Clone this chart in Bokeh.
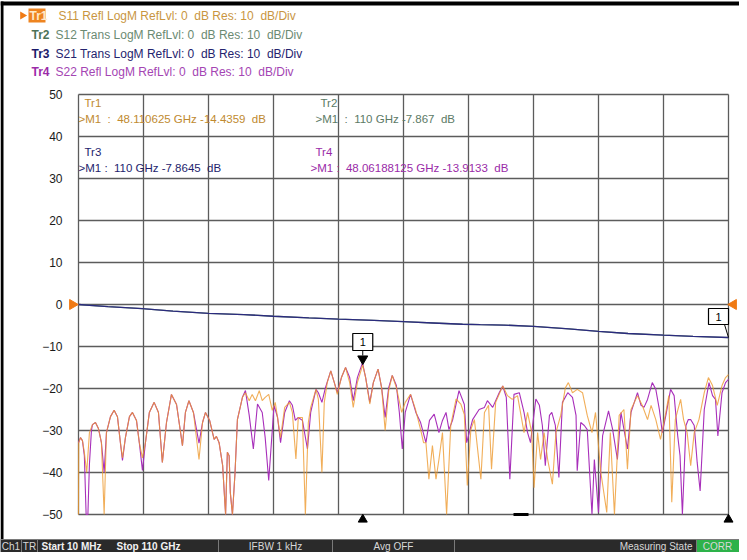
import numpy as np
from bokeh.plotting import figure
from bokeh.models import Range1d, FixedTicker
from bokeh.core.properties import value
from bokeh.embed import file_html
from bokeh.resources import INLINE

# ---------------- data (GHz, dB) ----------------
start_ghz, stop_ghz = 0.01, 110.0
y_ticks = [50, 40, 30, 20, 10, 0, -10, -20, -30, -40, -50]
x_divs = list(np.linspace(start_ghz, stop_ghz, 11))

freq_s11 = [0.01, 0.05, 0.34, 0.68, 1.0, 1.4, 1.86, 2.37, 2.88, 3.38, 3.89, 4.35, 4.74, 5.42, 6.04, 6.6, 7.1, 7.45,
            7.95, 8.63, 9.14, 9.82, 10.3, 10.83, 11.34, 12.0, 12.81, 13.54, 14.2, 14.9, 15.74, 16.6, 17.6, 18.1,
            18.7, 19.46, 20.4, 21.0, 21.5, 22.2, 22.96, 23.35, 23.8, 24.4, 24.9, 25.2, 25.5, 25.7, 26.06, 26.5,
            26.9, 27.75, 28.26, 28.9, 29.4, 29.95, 30.6, 31.1, 31.6, 32.2, 32.8, 33.3, 34.2, 34.9, 35.7, 36.2,
            36.8, 37.2, 37.9, 38.4, 38.9, 39.3, 40.2, 40.6, 41.2, 41.6, 42.1, 42.7, 43.3, 43.8, 44.5, 45.2, 45.9,
            46.5, 47.2, 48.1, 48.6, 49.3, 49.9, 50.7, 51.3, 51.9, 52.5, 53.1, 53.8, 54.7, 55.3, 56.2, 57.0, 57.9,
            58.4, 58.8, 59.3, 59.9, 60.5, 61.0, 61.6, 62.3, 63.0, 63.9, 64.7, 65.3, 65.8, 66.4, 67.0, 68.1, 68.7,
            69.4, 69.9, 70.6, 71.8, 72.6, 73.4, 74.3, 74.8, 75.4, 76.0, 76.7, 77.1, 77.7, 78.2, 78.8, 79.4, 80.2,
            80.8, 81.6, 82.4, 82.9, 83.6, 84.4, 85.3, 86.1, 86.9, 87.5, 88.4, 89.4, 90.0, 90.7, 91.5, 92.3, 92.9,
            93.5, 94.6, 95.4, 96.3, 96.9, 97.7, 98.5, 99.4, 99.9, 100.4, 101.0, 101.9, 102.4, 103.0, 103.6, 104.2,
            105.0, 105.9, 106.6, 107.3, 108.1, 108.9, 109.5, 110.0]
s11_db = [-50, -32.9, -31.7, -32.4, -35.2, -40.0, -30.5, -28.6, -28.1, -29.5, -32.9, -50, -30.5, -26.7, -25.2, -26.7,
          -32.9, -36.5, -31.7, -26.7, -25.7, -27.6, -32.9, -36.5, -32.9, -25.7, -23.3, -25.7, -37.6, -28.1, -21.4,
          -23.8, -33.6, -25.7, -22.9, -25.7, -36.9, -28.1, -25.7, -27.6, -32.1, -31.4, -32.9, -38.3, -50, -35.2,
          -36.0, -44.8, -50, -40.0, -27.4, -22.1, -21.0, -22.9, -21.4, -22.9, -20.5, -22.9, -22.1, -21.4, -25.2,
          -23.3, -31.7, -24.5, -23.3, -25.7, -36.8, -26.9, -26.9, -50, -28.1, -24.5, -20.2, -22.6, -40.0, -23.3,
          -18.6, -15.8, -18.6, -21.4, -17.4, -15.0, -18.6, -24.5, -18.6, -14.4, -17.4, -23.7, -18.6, -15.4, -19.8,
          -30.0, -20.5, -16.9, -19.8, -25.7, -23.3, -21.4, -24.8, -29.8, -32.9, -32.9, -41.6, -33.6, -41.6, -36.9,
          -30.5, -50, -28.8, -22.5, -23.7, -26.2, -43.1, -29.8, -27.4, -41.6, -25.7, -24.0, -39.2, -23.3, -19.4,
          -21.7, -22.6, -21.7, -25.7, -30.5, -25.7, -30.5, -43.6, -30.5, -36.9, -30.5, -36.9, -42.8, -30.5, -26.4,
          -19.8, -18.6, -21.0, -20.2, -21.0, -26.4, -30.5, -25.7, -40.0, -49.5, -30.5, -50, -26.4, -25.0, -39.2,
          -25.0, -21.7, -24.0, -27.4, -24.0, -27.4, -32.1, -25.7, -21.7, -47.1, -27.4, -22.6, -27.4, -30.5, -38.4,
          -30.5, -27.4, -21.0, -17.4, -19.3, -24.0, -19.3, -17.4, -16.7]

freq_s22 = [0.01, 0.34, 0.68, 1.0, 1.3, 1.6, 1.86, 2.2, 2.37, 2.88, 3.38, 3.89, 4.35, 4.74, 5.42, 6.04, 6.6, 7.1, 7.45,
            7.95, 8.63, 9.14, 9.82, 10.3, 10.83, 11.34, 12.0, 12.81, 13.54, 14.2, 14.9, 15.74, 16.6, 17.6, 18.1,
            18.7, 19.46, 20.4, 21.0, 21.5, 22.2, 22.96, 23.35, 23.8, 24.4, 24.9, 25.2, 25.5, 25.7, 26.06, 26.5,
            26.9, 27.75, 28.26, 28.9, 29.6, 30.3, 31.1, 31.6, 32.2, 33.1, 33.7, 34.2, 34.9, 35.7, 36.2, 36.7, 37.2,
            37.9, 38.75, 39.3, 40.2, 40.6, 41.2, 41.8, 42.7, 43.3, 43.8, 44.5, 45.2, 45.9, 46.5, 47.2, 48.06, 48.6,
            49.3, 49.9, 50.7, 51.3, 51.9, 52.5, 53.1, 53.8, 54.3, 54.8, 55.3, 56.2, 57.1, 57.9, 58.8, 59.4, 60.2,
            61.0, 61.6, 62.2, 62.7, 63.3, 64.4, 65.3, 65.7, 66.7, 67.8, 68.7, 69.2, 70.1, 71.2, 71.8, 72.4, 73.0,
            73.7, 74.6, 75.4, 76.0, 76.5, 77.4, 78.0, 78.5, 79.0, 79.7, 80.1, 80.7, 81.3, 81.9, 82.8, 83.6, 84.2,
            84.4, 85.0, 85.6, 86.1, 86.9, 87.3, 88.0, 88.7, 89.7, 90.4, 91.2, 91.8, 92.9, 93.5, 94.6, 95.2, 95.7,
            96.3, 97.1, 97.7, 98.3, 98.8, 99.4, 100.2, 100.8, 101.4, 101.8, 102.2, 102.8, 103.2, 103.6, 104.2,
            104.7, 105.2, 105.9, 106.7, 107.3, 107.8, 108.2, 108.9, 109.5, 110.0]
s22_db = [-32.9, -31.7, -32.4, -36.0, -50, -50, -38.0, -30.0, -28.6, -28.1, -29.5, -32.9, -40.0, -30.5, -26.7, -25.2,
          -26.7, -32.9, -37.1, -31.7, -26.7, -25.7, -27.6, -32.9, -39.5, -32.9, -25.7, -23.3, -25.7, -37.6, -28.1,
          -21.4, -23.8, -33.6, -25.7, -22.9, -25.7, -33.0, -28.1, -25.7, -27.6, -32.1, -31.4, -32.9, -38.3, -50,
          -35.2, -36.0, -44.8, -50, -40.0, -27.4, -22.1, -20.5, -26.4, -34.4, -23.7, -25.7, -31.7, -41.9, -24.0,
          -26.9, -32.9, -25.7, -22.9, -24.0, -27.6, -26.9, -27.6, -34.4, -25.7, -20.2, -21.0, -23.3, -19.8, -15.8,
          -18.6, -21.0, -17.4, -15.0, -17.4, -22.9, -17.4, -13.9, -17.4, -23.3, -18.6, -15.4, -19.8, -26.9, -19.8,
          -16.9, -19.3, -25.7, -34.4, -25.7, -21.4, -25.7, -28.1, -32.9, -27.6, -26.1, -30.5, -27.6, -25.7, -29.8,
          -27.6, -20.5, -23.8, -32.9, -27.4, -25.0, -24.5, -22.9, -24.5, -21.0, -19.4, -22.1, -41.6, -21.4, -21.0,
          -25.7, -30.5, -32.9, -22.5, -24.0, -28.8, -38.4, -26.4, -25.7, -28.8, -41.2, -23.3, -21.0, -22.1, -26.4,
          -39.6, -28.1, -28.8, -29.8, -50, -36.9, -49.5, -31.2, -25.3, -29.8, -36.9, -25.7, -34.4, -25.7, -21.0,
          -24.0, -24.5, -22.6, -18.6, -20.2, -25.0, -30.5, -26.4, -20.2, -21.7, -31.2, -36.0, -50, -28.8, -27.4,
          -27.4, -28.8, -37.6, -44.4, -25.0, -18.6, -21.7, -22.6, -31.3, -21.0, -18.6, -17.8]

freq_s21 = [0.01, 5.0, 10.8, 16.0, 22.0, 28.0, 33.0, 39.0, 44.0, 50.0, 55.0, 60.0, 65.0, 68.0, 72.0, 77.0, 83.0,
            88.0, 93.0, 99.0, 104.0, 110.0]
s21_db = [0.0, -0.5, -1.0, -1.6, -2.1, -2.4, -2.8, -3.2, -3.5, -3.8, -4.1, -4.4, -4.7, -4.8, -4.9, -5.2, -5.8, -6.4,
          -6.9, -7.3, -7.6, -7.86]
s12_db = [0.0, -0.5, -1.0, -1.6, -2.1, -2.4, -2.8, -3.2, -3.5, -3.8, -4.1, -4.4, -4.7, -4.8, -4.9, -5.2, -5.8, -6.4,
          -6.9, -7.3, -7.6, -7.87]

marker_tr1 = (48.110625, -14.4359)
marker_tr3 = (110.0, -7.8645)

# ---------------- layout helpers (reference pixel -> data) ----------------
FX0, FX1 = 86.0, 736.0      # frame left/right in screenshot px
FY0 = 312.0                 # 0 dB row
PX_PER_DB = 4.2


def X(px):
    return start_ghz + (px - FX0) / (FX1 - FX0) * (stop_ghz - start_ghz)


def Y(py):
    return (FY0 - py) / PX_PER_DB


NB = "\u00a0"

W, H = 739, 552
p = figure(width=W, height=H, output_backend="svg", toolbar_location=None,
           x_range=Range1d(X(8), X(747)), y_range=Range1d(Y(560), Y(8)),
           min_border=0, min_border_left=0, min_border_right=0, min_border_top=0, min_border_bottom=0)
p.outline_line_color = None
p.background_fill_color = "white"
p.border_fill_color = "white"
p.xaxis.visible = False
p.grid.visible = False

FONT = value("Liberation Sans")

# y axis drawn at the left edge of the grid
yax = p.yaxis[0]
yax.fixed_location = start_ghz
yax.ticker = FixedTicker(ticks=y_ticks)
yax.bounds = (-50, 50)
yax.axis_line_color = None
yax.major_tick_line_color = None
yax.minor_tick_line_color = None
yax.major_label_standoff = 10
yax.major_label_text_font = "Liberation Sans"
yax.major_label_text_font_size = "12px"
yax.major_label_text_color = "#1a1a1a"

# grid
GRID = "#5c5c5c"
p.segment(x0=[start_ghz] * len(y_ticks), x1=[stop_ghz] * len(y_ticks), y0=y_ticks, y1=y_ticks,
          line_color=GRID, line_width=1.3)
p.segment(x0=x_divs, x1=x_divs, y0=[-50] * len(x_divs), y1=[50] * len(x_divs), line_color=GRID, line_width=1.3)

# traces
C_S11, C_S12, C_S21, C_S22 = "#EE9A30", "#6E8E74", "#2B2B7E", "#A82FBA"
p.line(freq_s21, s12_db, line_color=C_S12, line_width=1.3)
p.line(freq_s21, s21_db, line_color=C_S21, line_width=1.3)
p.line(freq_s22, s22_db, line_color=C_S22, line_width=1.1)
p.line(freq_s11, s11_db, line_color=C_S11, line_width=1.1, line_alpha=0.8)

# marker 1 on Tr1 (down triangle + box)
mx, my = marker_tr1
p.scatter([mx], [my + 1.5], marker="triangle", angle=np.pi, size=10, fill_color="black", line_color="black")
p.segment([mx], [Y(358)], [mx], [Y(363)], line_color="black", line_width=1)
p.rect([mx], [Y(349.5)], width=X(381) - X(361), height=Y(341) - Y(358), fill_color="white",
       line_color="black", line_width=1.2)
p.text([mx], [Y(349.5)], text=["1"], text_font=FONT, text_font_size=value("11px"), text_align="center",
       text_baseline="middle", text_color="black")

# marker 1 on Tr2/Tr3 at stop frequency
m3x, m3y = marker_tr3
p.rect([X(726)], [Y(324)], width=X(736) - X(716), height=Y(316) - Y(332), fill_color="white",
       line_color="black", line_width=1.2)
p.text([X(726)], [Y(324)], text=["1"], text_font=FONT, text_font_size=value("11px"), text_align="center",
       text_baseline="middle", text_color="black")
p.segment([X(732)], [Y(332)], [m3x], [m3y], line_color="black", line_width=1)

# stimulus markers at bottom and reference-level arrows
p.scatter([mx, stop_ghz], [Y(527), Y(527)], marker="triangle", size=9, fill_color="black", line_color="black")
p.segment([X(521)], [-50], [X(536)], [-50], line_color="black", line_width=3)
p.scatter([X(80)], [0], marker="triangle", angle=-np.pi / 2, size=10, fill_color="#F07A14", line_color="#F07A14")
p.scatter([X(741)], [0], marker="triangle", angle=np.pi / 2, size=10, fill_color="#F07A14", line_color="#F07A14")

# black frame of the screen
p.quad(left=[X(8)], right=[X(747)], top=[Y(9)], bottom=[Y(13)], fill_color="black", line_color=None)
p.quad(left=[X(8)], right=[X(11)], top=[Y(9)], bottom=[Y(547)], fill_color="black", line_color=None)

# header trace lines
HDR = value("12px")
p.scatter([X(30)], [Y(23)], marker="triangle", angle=-np.pi / 2, size=8, fill_color="#F07A14", line_color=None)
p.quad(left=[X(36)], right=[X(53)], top=[Y(16)], bottom=[Y(30)], fill_color="#EE8420", line_color=None)
hdr_tags = ["Tr1", "Tr2", "Tr3", "Tr4"]
hdr_desc = ["S11 Refl LogM RefLvl: 0" + NB + " dB Res: 10" + NB + " dB/Div",
            "S12 Trans LogM RefLvl: 0" + NB + " dB Res: 10" + NB + " dB/Div",
            "S21 Trans LogM RefLvl: 0" + NB + " dB Res: 10" + NB + " dB/Div",
            "S22 Refl LogM RefLvl: 0" + NB + " dB Res: 10" + NB + " dB/Div"]
tag_colors = ["#FFE9C8", "#4D7358", "#1A1A6A", "#9B2BA9"]
desc_colors = ["#C9963F", "#6B8A72", "#24246E", "#A445B3"]
hdr_y = [23, 42, 61, 79]
tag_x = [37, 39, 39, 39]
desc_x = [66, 63, 63, 63]
p.text([X(v) for v in tag_x], [Y(v) for v in hdr_y], text=hdr_tags, text_font=FONT, text_font_size=HDR,
       text_font_style="bold", text_color=tag_colors, text_baseline="middle")
p.text([X(v) for v in desc_x], [Y(v) for v in hdr_y], text=hdr_desc, text_font=FONT, text_font_size=HDR,
       text_color=desc_colors, text_baseline="middle")

# marker readouts
RD = value("11.5px")
rd_tags = ["Tr1", "Tr2", "Tr3", "Tr4"]
rd_tag_x = [92, 328, 92, 323]
rd_tag_y = [110, 110, 159, 159]
rd_txt = [">M1" + NB + " :" + NB + " 48.110625 GHz -14.4359" + NB + " dB",
          ">M1" + NB + " :" + NB + " 110 GHz -7.867" + NB + " dB",
          ">M1 :" + NB + " 110 GHz -7.8645" + NB + " dB",
          ">M1 :" + NB + " 48.06188125 GHz -13.9133" + NB + " dB"]
rd_x = [86, 323, 86, 318]
rd_y = [126, 126, 175, 175]
rd_col = ["#C08A30", "#5C7A66", "#1E1E6E", "#9A2AA8"]
p.text([X(v) for v in rd_tag_x], [Y(v) for v in rd_tag_y], text=rd_tags, text_font=FONT, text_font_size=RD,
       text_color=rd_col, text_baseline="middle")
p.text([X(v) for v in rd_x], [Y(v) for v in rd_y], text=rd_txt, text_font=FONT, text_font_size=RD,
       text_color=rd_col, text_baseline="middle")

# status bar
cell_l = [8, 29, 45, 226, 340, 462, 704]
cell_r = [29, 45, 226, 340, 462, 704, 747]
cell_fill = ["#2a2a2a"] * 6 + ["#2DB24A"]
p.quad(left=[X(v) for v in cell_l], right=[X(v) for v in cell_r], top=[Y(547)] * 7, bottom=[Y(560)] * 7,
       fill_color=cell_fill, line_color="#7a7a7a", line_width=1)
SB = value("10px")
sb_txt = ["Ch1", "TR", "IFBW 1 kHz", "Avg OFF", "CORR"]
sb_x = [18.5, 37, 283, 401, 725]
p.text([X(v) for v in sb_x], [Y(554)] * len(sb_x), text=sb_txt, text_font=FONT, text_font_size=SB,
       text_color="#d8d8d8", text_align="center", text_baseline="middle")
p.text([X(49), X(124)], [Y(554)] * 2, text=["Start 10 MHz", "Stop 110 GHz"], text_font=FONT, text_font_size=SB,
       text_font_style="bold", text_color="#f2f2f2", text_baseline="middle")
p.text([X(700)], [Y(554)], text=["Measuring State"], text_font=FONT, text_font_size=SB,
       text_color="#d8d8d8", text_align="right", text_baseline="middle")

open("out.html", "w").write(file_html(p, INLINE))
